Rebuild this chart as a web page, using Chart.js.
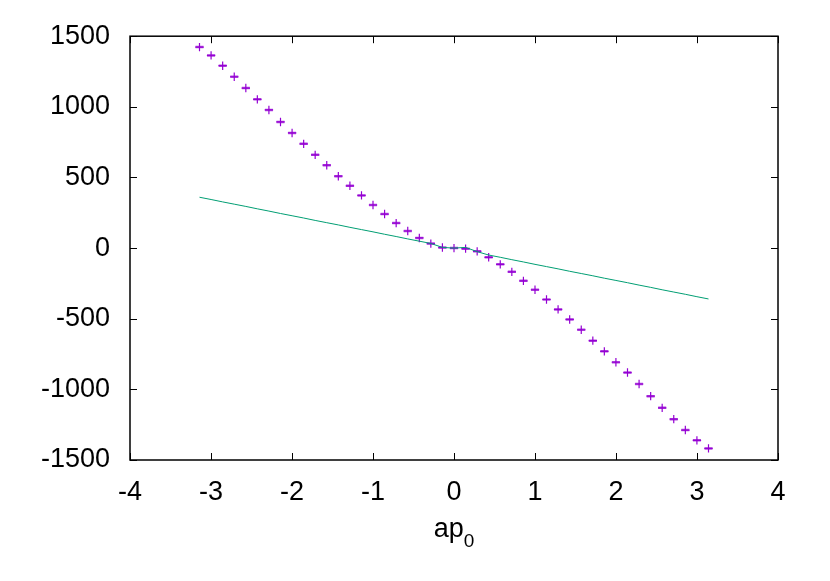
<!DOCTYPE html>
<html>
<head>
<meta charset="utf-8">
<script src="https://cdn.jsdelivr.net/npm/chart.js@4.4.1/dist/chart.umd.min.js"></script>
<style>
  body { margin: 0; background: #fff; }
  #wrap { width: 830px; height: 581px; }
</style>
</head>
<body>
<div id="wrap"><canvas id="myChart" width="830" height="581"></canvas></div>
<script>
// x positions (ap0), -pi .. pi
var xVals = [-3.142, -2.999, -2.856, -2.713, -2.570, -2.428, -2.285, -2.142, -1.999, -1.856,
    -1.714, -1.571, -1.428, -1.285, -1.142, -1.000, -0.857, -0.714, -0.571, -0.428,
    -0.286, -0.143, 0, 0.143, 0.286, 0.428, 0.571, 0.714, 0.857, 1.000,
    1.142, 1.285, 1.428, 1.571, 1.714, 1.856, 1.999, 2.142, 2.285, 2.428,
    2.570, 2.713, 2.856, 2.999, 3.142];

// measured points (purple crosses)
var measured = [1423, 1364, 1291, 1213, 1133, 1053, 978, 893, 815, 738,
    660, 587, 509, 441, 373, 305, 241, 177, 121, 72,
    32, 4, 0, -4, -23, -65, -115, -168, -232, -295,
    -364, -434, -505, -578, -655, -731, -808, -881, -962, -1048,
    -1131, -1211, -1288, -1361, -1418];

// green line
var lineVals = [360, 344, 327, 311, 295, 278, 262, 245, 229, 213,
    196, 180, 164, 147, 131, 115, 98, 82, 65, 49,
    33, 5, 0, 5, -25, -49, -65, -82, -98, -115,
    -131, -147, -164, -180, -196, -213, -229, -245, -262, -278,
    -295, -311, -327, -344, -360];

var xTicks = [-4, -3, -2, -1, 0, 1, 2, 3, 4];
var yTicks = [-1500, -1000, -500, 0, 500, 1000, 1500];
var xTitle = 'ap';
var xTitleSub = '0';

var FONT = '"Liberation Sans", Arial, Helvetica, sans-serif';

function toPoints(ys) {
    var pts = [];
    for (var i = 0; i < xVals.length; i++) {
        pts.push({x: xVals[i], y: ys[i]});
    }
    return pts;
}

// border box + inward ticks on all four sides, like gnuplot
var framePlugin = {
    id: 'frame',
    beforeDatasetsDraw: function(chart) {
        var ctx = chart.ctx;
        var a = chart.chartArea;
        var sx = chart.scales.x, sy = chart.scales.y;
        ctx.save();
        ctx.strokeStyle = '#000';
        ctx.lineWidth = 1;
        ctx.beginPath();
        for (var i = 0; i < xTicks.length; i++) {
            var px = Math.round(sx.getPixelForValue(xTicks[i])) + 0.5;
            ctx.moveTo(px, a.bottom); ctx.lineTo(px, a.bottom - 7);
            ctx.moveTo(px, a.top); ctx.lineTo(px, a.top + 7);
        }
        for (var j = 0; j < yTicks.length; j++) {
            var py = Math.round(sy.getPixelForValue(yTicks[j])) + 0.5;
            ctx.moveTo(a.left, py); ctx.lineTo(a.left + 7, py);
            ctx.moveTo(a.right, py); ctx.lineTo(a.right - 7, py);
        }
        ctx.stroke();
        ctx.lineWidth = 1.5;
        ctx.strokeRect(a.left, a.top, a.right - a.left, a.bottom - a.top);
        ctx.restore();
    },
    afterDraw: function(chart) {
        var ctx = chart.ctx;
        var a = chart.chartArea;
        ctx.save();
        ctx.fillStyle = '#000';
        ctx.textBaseline = 'alphabetic';
        ctx.font = '27px ' + FONT;
        var w1 = ctx.measureText(xTitle).width;
        ctx.font = '19px ' + FONT;
        var w2 = ctx.measureText(xTitleSub).width;
        var cx = (a.left + a.right) / 2;
        var x0 = cx - (w1 + w2) / 2;
        ctx.font = '27px ' + FONT;
        ctx.fillText(xTitle, x0, 537);
        ctx.font = '19px ' + FONT;
        ctx.fillText(xTitleSub, x0 + w1, 547);
        ctx.restore();
    }
};

function plainLabel(v) {
    return String(v);
}

function chartCreate() {
    const data = {
        datasets: [{
            type: 'line',
            data: toPoints(lineVals),
            borderColor: '#009e73',
            borderWidth: 1,
            pointRadius: 0,
            fill: false,
            tension: 0
        }, {
            type: 'scatter',
            data: toPoints(measured),
            pointStyle: 'line',
            pointRadius: 4,
            borderColor: 'rgba(148, 0, 211, 0.7)',
            borderWidth: 2.5,
            backgroundColor: 'rgba(148, 0, 211, 0.7)'
        }, {
            type: 'scatter',
            data: toPoints(measured),
            pointStyle: 'cross',
            pointRadius: 4.2,
            borderColor: '#9400d3',
            borderWidth: 1.2,
            backgroundColor: '#9400d3'
        }]
    };
    const config = {
        type: 'scatter',
        data: data,
        options: {
            responsive: false,
            animation: false,
            events: [],
            layout: { padding: { top: 35, right: 52, left: 0, bottom: 0 } },
            plugins: { legend: { display: false }, tooltip: { enabled: false } },
            scales: {
                x: {
                    type: 'linear', min: -4, max: 4,
                    afterFit: function(s) { s.height = 121; },
                    afterBuildTicks: function(s) { s.ticks = xTicks.map(function(v) { return {value: v}; }); },
                    grid: { display: false, drawTicks: false },
                    border: { display: false },
                    ticks: { color: '#000', padding: 16, callback: plainLabel, font: { family: FONT, size: 27 }, maxRotation: 0 }
                },
                y: {
                    type: 'linear', min: -1500, max: 1500,
                    afterFit: function(s) { s.width = 130; },
                    afterBuildTicks: function(s) { s.ticks = yTicks.map(function(v) { return {value: v}; }); },
                    grid: { display: false, drawTicks: false },
                    border: { display: false },
                    ticks: { color: '#000', padding: 20, callback: plainLabel, font: { family: FONT, size: 27 } }
                }
            }
        },
        plugins: [framePlugin]
    };
    const myChart = new Chart(document.getElementById('myChart'), config);
}

window.onload = function() {
    chartCreate();
}
</script>
</body>
</html>
